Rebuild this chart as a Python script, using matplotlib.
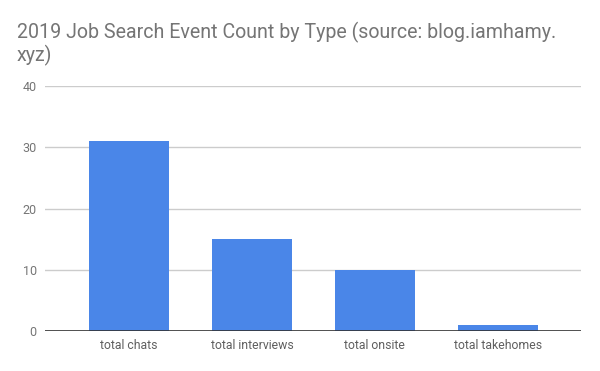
import numpy as np
import matplotlib.pyplot as plt

plt.rcParams['font.family'] = ['Roboto', 'DejaVu Sans']

categories = ['total chats', 'total interviews', 'total onsite', 'total takehomes']
counts = [31, 15, 10, 1]
y_ticks = [0, 10, 20, 30, 40]

fig = plt.figure(figsize=(6, 3.71), dpi=100)
ax = fig.add_axes([0.075, 0.1078, 0.893, 0.6604])

x = np.arange(len(categories))
ax.bar(x, counts, width=0.65, color='#4a86e8', zorder=3)

ax.set_xlim(-0.683, 3.675)
ax.set_ylim(0, 40)
ax.set_yticks(y_ticks)
ax.set_xticks(x)
ax.set_xticklabels(categories)

# gridlines like google sheets
ax.yaxis.grid(True, color='#cccccc', linewidth=1, zorder=0)
ax.axhline(0, color='#333333', linewidth=1.2, zorder=4)

for s in ax.spines.values():
    s.set_visible(False)
ax.tick_params(axis='both', length=0, labelsize=9, colors='#757575')
ax.tick_params(axis='x', pad=6, labelsize=8.8, labelcolor='#5f5f5f')
ax.tick_params(axis='y', pad=6)

fig.text(0.028, 0.94, '2019 Job Search Event Count by Type (source: blog.iamhamy.\nxyz)',
         fontsize=14.1, color='#757575', ha='left', va='top', linespacing=1.1)

fig.savefig('out.png', dpi=100)
